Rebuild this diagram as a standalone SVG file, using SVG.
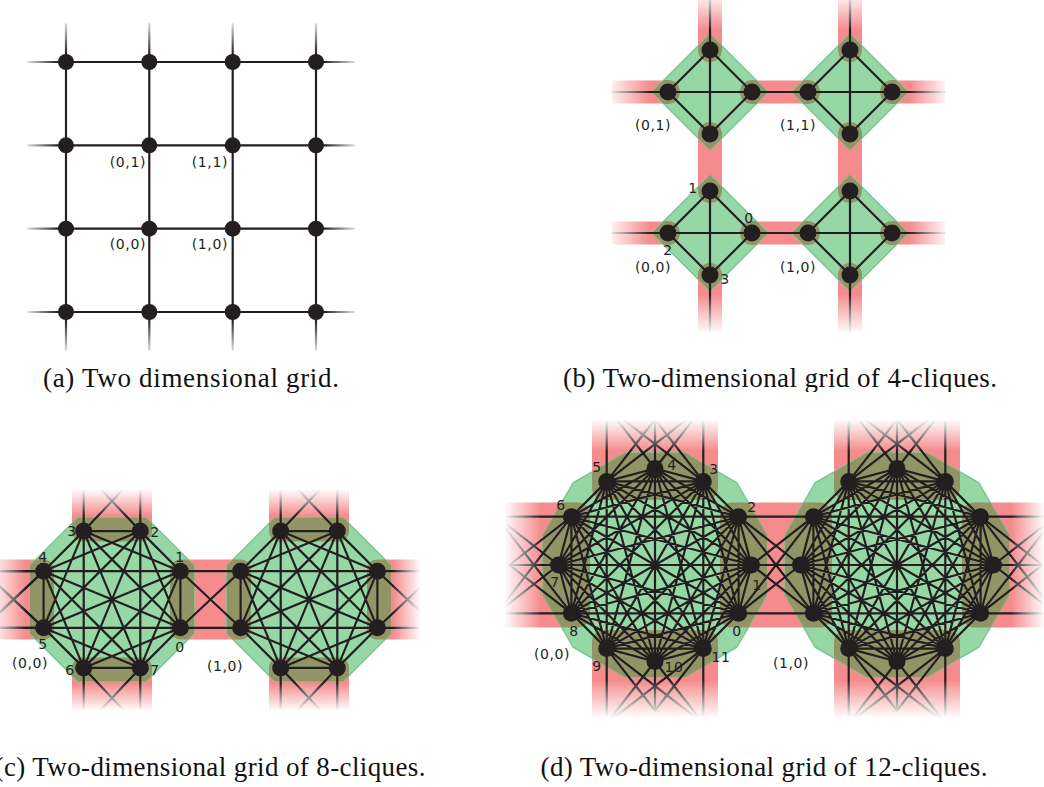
<svg xmlns="http://www.w3.org/2000/svg" xmlns:xlink="http://www.w3.org/1999/xlink" width="1044" height="787" viewBox="0 0 1044 787">
<style>
.grn{fill:#96d7a6;stroke:#7bc690;stroke-width:1.5;stroke-linejoin:round}
.olv{fill:#919464}
.olvl{fill:none;stroke:#919464;stroke-width:24;stroke-linecap:round}
.band{fill:#f58b8d}
.edge{fill:none;stroke:#231f20;stroke-width:2.2;stroke-linejoin:round;stroke-linecap:round}
.nd{fill:#231f20}
.lbl{font-family:"DejaVu Sans",Verdana,sans-serif;font-size:14px;fill:#231f20;letter-spacing:0.6px}
.cap{font-family:"Liberation Serif","Times New Roman",serif;font-size:27px;fill:#111}
</style>
<defs>
<linearGradient id="fL" x1="0" y1="0" x2="1" y2="0"><stop offset="0" stop-color="#fff"/><stop offset="1" stop-color="#fff" stop-opacity="0"/></linearGradient>
<linearGradient id="fR" x1="1" y1="0" x2="0" y2="0"><stop offset="0" stop-color="#fff"/><stop offset="1" stop-color="#fff" stop-opacity="0"/></linearGradient>
<linearGradient id="fT" x1="0" y1="0" x2="0" y2="1"><stop offset="0" stop-color="#fff"/><stop offset="1" stop-color="#fff" stop-opacity="0"/></linearGradient>
<linearGradient id="fB" x1="0" y1="1" x2="0" y2="0"><stop offset="0" stop-color="#fff"/><stop offset="1" stop-color="#fff" stop-opacity="0"/></linearGradient>
<clipPath id="c4"><polygon points="0,-58 58,0 0,58 -58,0"/></clipPath>
<clipPath id="c8"><polygon points="82,-34 34,-82 -34,-82 -82,-34 -82,34 -34,82 34,82 82,34"/></clipPath>
<clipPath id="c12"><polygon points="112,-30 82,-82 30,-112 -30,-112 -82,-82 -112,-30 -112,30 -82,82 -30,112 30,112 82,82 112,30"/></clipPath>

<g id="k4">
<polygon class="grn" points="0,-58 58,0 0,58 -58,0"/>
<g clip-path="url(#c4)"><path class="olvl" d="M0,-42V-80 M42,0H80 M0,42V80 M-42,0H-80"/></g>
<path class="edge" d="M0,-42L42,0L0,42L-42,0Z M0,-42V42 M-42,0H42"/>
<g class="nd"><circle cx="0" cy="-42" r="8.5"/><circle cx="42" cy="0" r="8.5"/><circle cx="0" cy="42" r="8.5"/><circle cx="-42" cy="0" r="8.5"/></g>
</g>

<g id="k8">
<polygon class="grn" points="82,-34 34,-82 -34,-82 -82,-34 -82,34 -34,82 34,82 82,34"/>
<g class="olv" clip-path="url(#c8)">
<rect x="-40" y="-95" width="80" height="37" rx="10"/>
<rect x="-40" y="58" width="80" height="37" rx="10"/>
<rect x="-95" y="-40" width="37" height="80" rx="10"/>
<rect x="58" y="-40" width="37" height="80" rx="10"/>
</g>
<path class="edge" d="M68.4,-28.3L28.3,-68.4L-28.3,-68.4L-68.4,-28.3L-68.4,28.3L-28.3,68.4L28.3,68.4L68.4,28.3Z M68.4,-28.3L-28.3,-68.4L-68.4,28.3L28.3,68.4Z M28.3,-68.4L-68.4,-28.3L-28.3,68.4L68.4,28.3Z M68.4,-28.3L-68.4,-28.3L28.3,68.4L28.3,-68.4L-68.4,28.3L68.4,28.3L-28.3,-68.4L-28.3,68.4Z M68.4,-28.3L-68.4,28.3 M28.3,-68.4L-28.3,68.4 M-28.3,-68.4L28.3,68.4 M-68.4,-28.3L68.4,28.3"/>
<g class="nd">
<circle cx="68.4" cy="-28.3" r="8.5"/><circle cx="28.3" cy="-68.4" r="8.5"/><circle cx="-28.3" cy="-68.4" r="8.5"/><circle cx="-68.4" cy="-28.3" r="8.5"/>
<circle cx="-68.4" cy="28.3" r="8.5"/><circle cx="-28.3" cy="68.4" r="8.5"/><circle cx="28.3" cy="68.4" r="8.5"/><circle cx="68.4" cy="28.3" r="8.5"/>
</g>
</g>

<g id="k12">
<polygon class="grn" points="112,-30 82,-82 30,-112 -30,-112 -82,-82 -112,-30 -112,30 -82,82 -30,112 30,112 82,82 112,30"/>
<g class="olv" clip-path="url(#c12)">
<rect x="-63" y="-130" width="126" height="65" rx="12"/>
<rect x="-63" y="65" width="126" height="65" rx="12"/>
<rect x="-130" y="-62.5" width="65" height="125" rx="12"/>
<rect x="65" y="-62.5" width="65" height="125" rx="12"/>
</g>
<path class="edge" d="M96.5,0L83.6,-48.3L48.3,-83.6L0,-96.5L-48.3,-83.6L-83.6,-48.3L-96.5,0L-83.6,48.3L-48.3,83.6L0,96.5L48.3,83.6L83.6,48.3Z
M96.5,0L48.3,-83.6L-48.3,-83.6L-96.5,0L-48.3,83.6L48.3,83.6Z M83.6,-48.3L0,-96.5L-83.6,-48.3L-83.6,48.3L0,96.5L83.6,48.3Z
M96.5,0L0,-96.5L-96.5,0L0,96.5Z M83.6,-48.3L-48.3,-83.6L-83.6,48.3L48.3,83.6Z M48.3,-83.6L-83.6,-48.3L-48.3,83.6L83.6,48.3Z
M96.5,0L-48.3,-83.6L-48.3,83.6Z M83.6,-48.3L-83.6,-48.3L0,96.5Z M48.3,-83.6L-96.5,0L48.3,83.6Z M0,-96.5L-83.6,48.3L83.6,48.3Z
M96.5,0L-83.6,-48.3L48.3,83.6L0,-96.5L-48.3,83.6L83.6,-48.3L-96.5,0L83.6,48.3L-48.3,-83.6L0,96.5L48.3,-83.6L-83.6,48.3Z
M96.5,0L-96.5,0 M83.6,-48.3L-83.6,48.3 M48.3,-83.6L-48.3,83.6 M0,-96.5L0,96.5 M-48.3,-83.6L48.3,83.6 M-83.6,-48.3L83.6,48.3"/>
<g class="nd">
<circle cx="96.5" cy="0" r="8.5"/><circle cx="83.6" cy="-48.3" r="8.5"/><circle cx="48.3" cy="-83.6" r="8.5"/><circle cx="0" cy="-96.5" r="8.5"/>
<circle cx="-48.3" cy="-83.6" r="8.5"/><circle cx="-83.6" cy="-48.3" r="8.5"/><circle cx="-96.5" cy="0" r="8.5"/><circle cx="-83.6" cy="48.3" r="8.5"/>
<circle cx="-48.3" cy="83.6" r="8.5"/><circle cx="0" cy="96.5" r="8.5"/><circle cx="48.3" cy="83.6" r="8.5"/><circle cx="83.6" cy="48.3" r="8.5"/>
</g>
</g>

<path id="l8t" class="edge" d="M-28.3,-68.4L-28.3,-128.6 M-28.3,-68.4L28.3,-128.6 M28.3,-68.4L-28.3,-128.6 M28.3,-68.4L28.3,-128.6"/>
<path id="l8r" class="edge" d="M68.4,-28.3L128.6,-28.3 M68.4,-28.3L128.6,28.3 M68.4,28.3L128.6,-28.3 M68.4,28.3L128.6,28.3"/>
<path id="l12t" class="edge" d="M-48.3,-83.6L-48.3,-158.4 M-48.3,-83.6L0,-145.5 M-48.3,-83.6L48.3,-158.4 M0,-96.5L-48.3,-158.4 M0,-96.5L0,-145.5 M0,-96.5L48.3,-158.4 M48.3,-83.6L-48.3,-158.4 M48.3,-83.6L0,-145.5 M48.3,-83.6L48.3,-158.4"/>
<path id="l12r" class="edge" d="M83.6,-48.3L158.4,-48.3 M83.6,-48.3L145.5,0 M83.6,-48.3L158.4,48.3 M96.5,0L158.4,-48.3 M96.5,0L145.5,0 M96.5,0L158.4,48.3 M83.6,48.3L158.4,-48.3 M83.6,48.3L145.5,0 M83.6,48.3L158.4,48.3"/>
</defs>

<rect width="1044" height="787" fill="#fff"/>

<!-- (a) -->
<g id="panel-a">
<g id="a-connectors" class="edge">
<path d="M28,62H354 M28,145.3H354 M28,228.7H354 M28,312H354 M66,24V350 M149.3,24V350 M232.7,24V350 M316,24V350"/>
</g>
<g id="a-fade">
<rect x="22" y="40" width="36" height="290" fill="url(#fL)"/>
<rect x="324" y="40" width="36" height="290" fill="url(#fR)"/>
<rect x="40" y="18" width="300" height="36" fill="url(#fT)"/>
<rect x="40" y="320" width="300" height="36" fill="url(#fB)"/>
</g>
<g class="nd">
<g id="a-n-m1-2"><circle cx="66" cy="62" r="8"/></g><g id="a-n-0-2"><circle cx="149.3" cy="62" r="8"/></g><g id="a-n-1-2"><circle cx="232.7" cy="62" r="8"/></g><g id="a-n-2-2"><circle cx="316" cy="62" r="8"/></g>
<g id="a-n-m1-1"><circle cx="66" cy="145.3" r="8"/></g><g id="a-n-0-1"><circle cx="149.3" cy="145.3" r="8"/></g><g id="a-n-1-1"><circle cx="232.7" cy="145.3" r="8"/></g><g id="a-n-2-1"><circle cx="316" cy="145.3" r="8"/></g>
<g id="a-n-m1-0"><circle cx="66" cy="228.7" r="8"/></g><g id="a-n-0-0"><circle cx="149.3" cy="228.7" r="8"/></g><g id="a-n-1-0"><circle cx="232.7" cy="228.7" r="8"/></g><g id="a-n-2-0"><circle cx="316" cy="228.7" r="8"/></g>
<g id="a-n-m1-m1"><circle cx="66" cy="312" r="8"/></g><g id="a-n-0-m1"><circle cx="149.3" cy="312" r="8"/></g><g id="a-n-1-m1"><circle cx="232.7" cy="312" r="8"/></g><g id="a-n-2-m1"><circle cx="316" cy="312" r="8"/></g>
</g>
<g class="lbl" text-anchor="end">
<text x="146" y="167">(0,1)</text><text x="228" y="167">(1,1)</text>
<text x="146" y="249">(0,0)</text><text x="228" y="249">(1,0)</text>
</g>
<text class="cap" x="191" y="387" text-anchor="middle" textLength="296">(a) Two dimensional grid.</text>
</g>

<!-- (b) -->
<g id="panel-b">
<g id="b-bands" class="band">
<rect x="612" y="80.5" width="333" height="23"/>
<rect x="612" y="221.5" width="333" height="23"/>
<rect x="698" y="-8" width="24" height="340"/>
<rect x="838" y="-8" width="24" height="340"/>
</g>
<g id="b-clique-0-1"><use xlink:href="#k4" x="710" y="92"/></g>
<g id="b-clique-1-1"><use xlink:href="#k4" x="850" y="92"/></g>
<g id="b-clique-0-0"><use xlink:href="#k4" x="710" y="233"/></g>
<g id="b-clique-1-0"><use xlink:href="#k4" x="850" y="233"/></g>
<g id="b-connectors" class="edge">
<path d="M612,92H668 M752,92H808 M892,92H945 M612,233H668 M752,233H808 M892,233H945 M710,-8V50 M850,-8V50 M710,275V332 M850,275V332"/>
</g>
<g id="b-fade">
<rect x="606" y="70" width="44" height="175" fill="url(#fL)"/>
<rect x="909" y="70" width="40" height="175" fill="url(#fR)"/>
<rect x="690" y="-8" width="180" height="38" fill="url(#fT)"/>
<rect x="690" y="294" width="180" height="40" fill="url(#fB)"/>
</g>
<g class="lbl" text-anchor="middle">
<text x="653" y="130">(0,1)</text><text x="798" y="130">(1,1)</text>
<text x="653" y="272">(0,0)</text><text x="798" y="272">(1,0)</text>
<text x="693" y="193">1</text><text x="749" y="223">0</text><text x="668" y="255">2</text><text x="725" y="284">3</text>
</g>
<text class="cap" x="780" y="387" text-anchor="middle" textLength="434">(b) Two-dimensional grid of 4-cliques.</text>
</g>

<!-- (c) -->
<g id="panel-c">
<g id="c-bands" class="band">
<rect x="72" y="455" width="80" height="285"/>
<rect x="269" y="455" width="80" height="285"/>
<rect x="-10" y="559.5" width="460" height="80"/>
</g>
<g id="c-clique-0-0"><use xlink:href="#k8" x="112" y="599.5"/></g>
<g id="c-clique-1-0"><use xlink:href="#k8" x="309" y="599.5"/></g>
<g id="c-connectors">
<use xlink:href="#l8t" x="112" y="599.5"/>
<use xlink:href="#l8t" transform="translate(112,599.5) scale(1,-1)"/>
<use xlink:href="#l8t" transform="translate(112,599.5) scale(-1,1) rotate(90)"/>
<use xlink:href="#l8r" x="112" y="599.5"/>
<use xlink:href="#l8r" transform="translate(112,599.5) scale(-1,1)"/>
<use xlink:href="#l8t" x="309" y="599.5"/>
<use xlink:href="#l8t" transform="translate(309,599.5) scale(1,-1)"/>
<use xlink:href="#l8r" x="309" y="599.5"/>
</g>
<g id="c-fade">
<rect x="60" y="450" width="300" height="40" fill="#fff"/>
<rect x="60" y="489" width="300" height="27" fill="url(#fT)"/>
<rect x="60" y="683" width="300" height="28" fill="url(#fB)"/>
<rect x="60" y="710" width="300" height="35" fill="#fff"/>
<rect x="-10" y="550" width="36" height="100" fill="url(#fL)"/>
<rect x="393" y="550" width="28" height="100" fill="url(#fR)"/>
<rect x="420" y="550" width="35" height="100" fill="#fff"/>
</g>
<g class="lbl" text-anchor="middle">
<text x="72" y="536">3</text><text x="155" y="537">2</text><text x="180" y="562">1</text><text x="43" y="562">4</text>
<text x="43" y="649">5</text><text x="180" y="652">0</text><text x="70" y="675">6</text><text x="155" y="675">7</text>
<text x="30" y="668">(0,0)</text><text x="225" y="671">(1,0)</text>
</g>
<text class="cap" x="210" y="776" text-anchor="middle" textLength="431">(c) Two-dimensional grid of 8-cliques.</text>
</g>

<!-- (d) -->
<g id="panel-d">
<g id="d-bands" class="band">
<rect x="592" y="395" width="126" height="345"/>
<rect x="834" y="395" width="126" height="345"/>
<rect x="480" y="502.5" width="570" height="125"/>
</g>
<g id="d-clique-0-0"><use xlink:href="#k12" x="655" y="565"/></g>
<g id="d-clique-1-0"><use xlink:href="#k12" x="897" y="565"/></g>
<g id="d-connectors">
<use xlink:href="#l12t" x="655" y="565"/>
<use xlink:href="#l12t" transform="translate(655,565) scale(1,-1)"/>
<use xlink:href="#l12r" x="655" y="565"/>
<use xlink:href="#l12r" transform="translate(655,565) scale(-1,1)"/>
<use xlink:href="#l12t" x="897" y="565"/>
<use xlink:href="#l12t" transform="translate(897,565) scale(1,-1)"/>
<use xlink:href="#l12r" x="897" y="565"/>
</g>
<g id="d-fade">
<rect x="580" y="392" width="395" height="28" fill="#fff"/>
<rect x="580" y="419" width="395" height="32" fill="url(#fT)"/>
<rect x="580" y="680" width="395" height="38" fill="url(#fB)"/>
<rect x="580" y="717" width="395" height="25" fill="#fff"/>
<rect x="478" y="495" width="27" height="140" fill="#fff"/>
<rect x="504" y="495" width="37" height="140" fill="url(#fL)"/>
<rect x="1011" y="495" width="34" height="140" fill="url(#fR)"/>
</g>
<g class="lbl" text-anchor="middle">
<text x="597" y="472">5</text><text x="672" y="470">4</text><text x="714" y="474">3</text>
<text x="561" y="510">6</text><text x="752" y="512">2</text>
<text x="555" y="587">7</text><text x="757" y="590">1</text>
<text x="574" y="636">8</text><text x="737" y="636">0</text>
<text x="597" y="671">9</text><text x="674" y="672">10</text><text x="721" y="662">11</text>
<text x="552" y="659">(0,0)</text><text x="791" y="668">(1,0)</text>
</g>
<text class="cap" x="764" y="776" text-anchor="middle" textLength="447">(d) Two-dimensional grid of 12-cliques.</text>
</g>
</svg>
